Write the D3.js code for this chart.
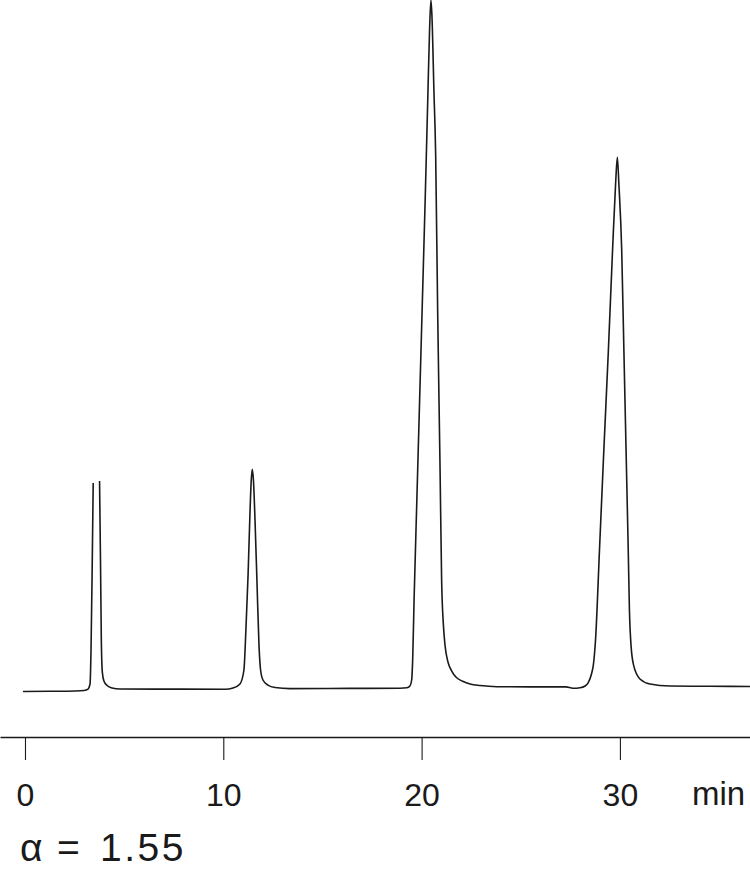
<!DOCTYPE html>
<html>
<head>
<meta charset="utf-8">
<script src="https://cdn.jsdelivr.net/npm/d3@7"></script>
<style>
	body { margin: 0; background: #fff; }
	#chart { width: 750px; height: 869px; }
	text { font-family: "Liberation Sans", Arial, sans-serif; fill: #1a1a1a; }
</style>
</head>
<body>
<div id="chart"></div>
<script>
// retention time (min) and detector signal (baseline 0, tallest peak 100)
// null = the break at the top of the split first peak
var times = [-0.10, 1.26, 2.52, 2.98, 3.18, 3.28, 3.33, 3.39, 3.44, 3.60,
	3.76, 3.81, 3.85, 3.90, 3.98, 4.14, 4.39, 4.79, 7.82, 10.09,
	10.49, 10.84, 11.04, 11.14, 11.25, 11.35, 11.41, 11.46, 11.52, 11.60,
	11.70, 11.80, 11.88, 12.00, 12.25, 12.61, 13.36, 16.39, 18.91,
	19.26, 19.41, 19.50, 19.55, 19.62, 19.76, 19.90, 20.04, 20.18, 20.31,
	20.40, 20.47, 20.52, 20.62, 20.71, 20.81, 20.93, 21.01,
	21.10, 21.18, 21.33, 21.52, 21.73, 22.04, 22.44, 22.95, 23.80, 25.47,
	27.28, 27.63, 27.99,
	28.24, 28.39, 28.58, 28.66, 28.77, 28.97, 29.19, 29.42, 29.63, 29.78,
	29.87, 29.95, 30.09, 30.20, 30.31, 30.42, 30.48, 30.56, 30.69, 31.01,
	31.52, 32.53, 34.54, 36.56];
var signal = [-0.22, -0.19, -0.14, -0.07, 0.14, 0.87, 5.8, 18.1, 30.0, null,
	30.3, 18.1, 7.2, 2.6, 1.3, 0.65, 0.29, 0.14, 0.12, 0.10,
	0.29, 0.87, 2.9, 8.7, 16.7, 26.1, 30.4, 32.0, 30.4, 24.6,
	15.5, 6.5, 2.9, 1.45, 0.72, 0.36, 0.20, 0.23, 0.25,
	0.32, 0.58, 1.45, 4.4, 13.0, 27.5, 42.0, 56.5, 71.0, 85.5,
	95.5, 100.0, 97.8, 87.0, 77.4, 54.8, 32.2, 15.9,
	9.4, 6.5, 4.06, 2.75, 1.88, 1.3, 0.87, 0.65, 0.48, 0.46,
	0.46, 0.25, 0.33,
	0.58, 1.0, 2.46, 3.6, 7.25, 20.3, 34.8, 49.3, 63.8, 73.2,
	77.2, 73.2, 63.8, 49.3, 34.8, 20.3, 11.6, 6.5, 3.6, 1.6,
	0.87, 0.58, 0.54, 0.51];
var tickValues = [0, 10, 20, 30];
var unitLabel = "min";
var alphaLabel = ["α", "=", "1.55"];

drawChromatogram("chart");

function drawChromatogram(container){
	var width = 750, height = 869;
	var axisY = 737;

	var svg = d3.select("#" + container).append("svg")
		.attr("width", width)
		.attr("height", height);

	var x = d3.scaleLinear().domain([-1.26, 36.56]).range([0, width]);
	var y = d3.scaleLinear().domain([0, 100]).range([690, 0]);

	var points = times.map(function(t, i){ return {t: t, v: signal[i]}; });

	var line = d3.line()
		.defined(function(d){ return d.v !== null; })
		.x(function(d){ return x(d.t); })
		.y(function(d){ return y(d.v); })
		.curve(d3.curveMonotoneX);

	svg.append("path")
		.datum(points)
		.attr("d", line)
		.attr("fill", "none")
		.attr("stroke", "#1a1a1a")
		.attr("stroke-width", 1.6)
		.attr("stroke-linejoin", "round");

	var axis = d3.axisBottom(x)
		.tickValues(tickValues)
		.tickSize(23)
		.tickSizeOuter(0)
		.tickPadding(23)
		.tickFormat(d3.format("d"));

	var axisG = svg.append("g")
		.attr("transform", "translate(0," + axisY + ")")
		.call(axis);
	axisG.select(".domain").attr("stroke", "#1a1a1a").attr("stroke-width", 1.3);
	axisG.selectAll(".tick line").attr("stroke", "#1a1a1a").attr("stroke-width", 1.1);
	axisG.selectAll(".tick text")
		.attr("font-size", 32)
		.attr("font-family", "Liberation Sans, Arial, sans-serif")
		.attr("fill", "#1a1a1a");

	svg.append("text")
		.attr("x", 692)
		.attr("y", 805)
		.attr("font-size", 33)
		.text(unitLabel);

	// selectivity factor
	var alphaX = [20, 57, 100];
	svg.selectAll(".alpha")
		.data(alphaLabel)
		.enter()
		.append("text")
		.attr("class", "alpha")
		.attr("x", function(d, i){ return alphaX[i]; })
		.attr("y", 861)
		.attr("font-size", 39)
		.attr("letter-spacing", function(d, i){ return i == 2 ? 2.5 : 0; })
		.text(function(d){ return d; });
}
</script>
</body>
</html>
